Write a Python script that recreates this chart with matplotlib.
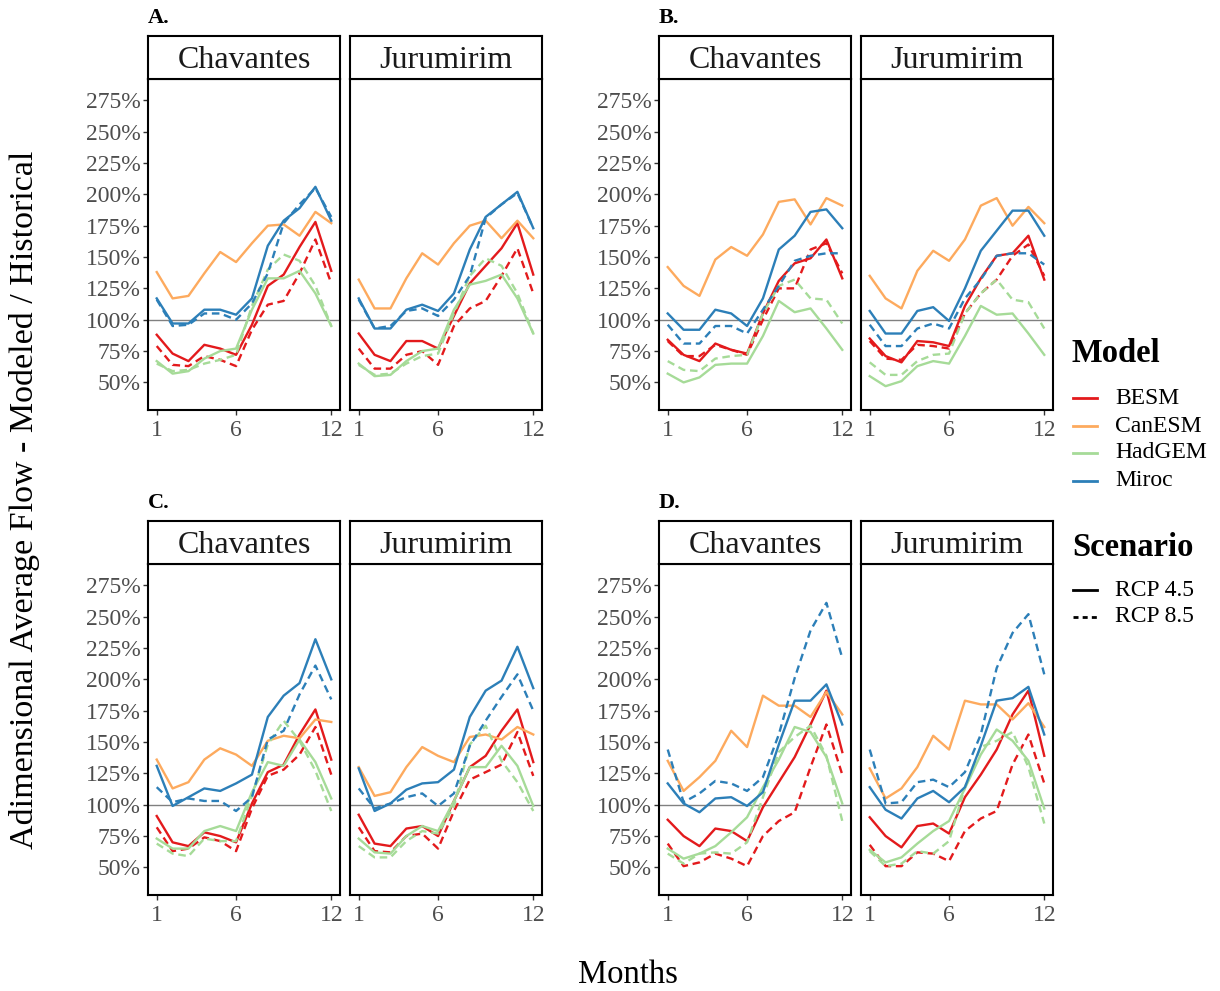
import matplotlib
matplotlib.use("Agg")
import matplotlib.pyplot as plt
from matplotlib.lines import Line2D

plt.rcParams['font.family'] = ['Liberation Serif', 'DejaVu Serif']

# ---------------- data ----------------
months = [1, 2, 3, 4, 5, 6, 7, 8, 9, 10, 11, 12]
stations = ["Chavantes", "Jurumirim"]
models = ["BESM", "CanESM", "HadGEM", "Miroc"]
scenarios = ["RCP 4.5", "RCP 8.5"]
panel_tags = ["A.", "B.", "C.", "D."]
y_ticks = [50, 75, 100, 125, 150, 175, 200, 225, 250, 275]
y_ticklabels = ["50%", "75%", "100%", "125%", "150%", "175%", "200%", "225%", "250%", "275%"]
x_ticks = [1, 6, 12]

# Panel A
A_CHA_BESM_45 = [88, 73, 67, 80, 77, 72, 96, 127, 136, 158, 178, 139]
A_CHA_BESM_85 = [79, 64, 63, 71, 68, 63, 92, 112, 115, 137, 164, 129]
A_CHA_CAN_45 = [138, 117, 119, 137, 154, 146, 161, 175, 176, 167, 186, 177]
A_CHA_HAD_45 = [67, 57, 59, 69, 75, 77, 108, 133, 133, 139, 121, 95]
A_CHA_HAD_85 = [65, 59, 60, 65, 68, 72, 111, 140, 152, 147, 127, 95]
A_CHA_MIR_45 = [117, 97, 97, 108, 108, 104, 117, 159, 179, 189, 206, 179]
A_CHA_MIR_85 = [116, 95, 96, 105, 105, 100, 113, 137, 177, 192, 205, 182]

A_JUR_BESM_45 = [89, 72, 67, 83, 83, 77, 103, 129, 143, 157, 177, 136]
A_JUR_BESM_85 = [77, 61, 61, 72, 75, 64, 95, 109, 115, 135, 157, 121]
A_JUR_CAN_45 = [132, 109, 109, 133, 153, 144, 161, 175, 179, 165, 179, 165]
A_JUR_HAD_45 = [65, 55, 56, 67, 75, 77, 108, 128, 131, 136, 117, 89]
A_JUR_HAD_85 = [64, 56, 57, 65, 71, 73, 105, 135, 149, 143, 121, 89]
A_JUR_MIR_45 = [117, 93, 93, 108, 112, 107, 121, 156, 182, 192, 202, 173]
A_JUR_MIR_85 = [116, 93, 95, 107, 109, 103, 116, 135, 181, 192, 201, 173]

# Panel B
B_CHA_BESM_45 = [84, 72, 67, 81, 76, 73, 105, 131, 145, 149, 164, 133]
B_CHA_BESM_85 = [83, 71, 71, 80, 76, 72, 100, 125, 125, 156, 161, 137]
B_CHA_CAN_45 = [142, 127, 119, 148, 158, 151, 168, 194, 196, 176, 197, 191]
B_CHA_HAD_45 = [57, 50, 54, 64, 65, 65, 87, 115, 106, 109, 93, 76]
B_CHA_HAD_85 = [67, 60, 59, 69, 71, 72, 105, 127, 132, 117, 116, 97]
B_CHA_MIR_45 = [105, 92, 92, 108, 105, 95, 117, 156, 167, 186, 188, 173]
B_CHA_MIR_85 = [96, 81, 81, 95, 95, 89, 108, 127, 147, 151, 153, 153]

B_JUR_BESM_45 = [85, 71, 66, 83, 82, 79, 111, 133, 151, 153, 167, 132]
B_JUR_BESM_85 = [83, 69, 68, 80, 79, 77, 105, 121, 132, 151, 160, 135]
B_JUR_CAN_45 = [135, 117, 109, 139, 155, 147, 164, 191, 197, 175, 190, 177]
B_JUR_HAD_45 = [55, 47, 51, 63, 67, 65, 87, 111, 104, 105, 89, 72]
B_JUR_HAD_85 = [66, 56, 56, 67, 72, 73, 105, 121, 132, 116, 114, 93]
B_JUR_MIR_45 = [107, 89, 89, 107, 110, 99, 125, 155, 171, 187, 187, 167]
B_JUR_MIR_85 = [96, 79, 79, 93, 97, 93, 117, 132, 151, 153, 153, 144]

# Panel C
C_CHA_BESM_45 = [91, 70, 67, 78, 75, 70, 101, 126, 132, 156, 176, 136]
C_CHA_BESM_85 = [82, 63, 65, 74, 71, 63, 97, 123, 128, 140, 162, 124]
C_CHA_CAN_45 = [136, 113, 118, 136, 145, 140, 131, 151, 155, 153, 168, 166]
C_CHA_HAD_45 = [73, 65, 65, 79, 83, 79, 110, 134, 131, 152, 134, 105]
C_CHA_HAD_85 = [69, 61, 59, 73, 71, 71, 107, 148, 167, 151, 127, 95]
C_CHA_MIR_45 = [131, 99, 106, 113, 111, 117, 124, 170, 187, 197, 232, 200]
C_CHA_MIR_85 = [114, 102, 105, 103, 103, 95, 106, 152, 159, 188, 211, 184]

C_JUR_BESM_45 = [92, 69, 67, 81, 83, 75, 103, 130, 139, 159, 176, 134]
C_JUR_BESM_85 = [82, 63, 62, 75, 77, 65, 95, 120, 126, 132, 158, 123]
C_JUR_CAN_45 = [130, 107, 110, 130, 146, 139, 134, 154, 156, 152, 162, 156]
C_JUR_HAD_45 = [73, 62, 61, 75, 83, 79, 103, 130, 130, 147, 131, 99]
C_JUR_HAD_85 = [67, 58, 58, 71, 79, 77, 99, 148, 163, 135, 118, 95]
C_JUR_MIR_45 = [129, 95, 101, 112, 117, 118, 128, 170, 191, 199, 226, 193]
C_JUR_MIR_85 = [113, 97, 101, 106, 109, 99, 109, 147, 167, 186, 204, 175]

# Panel D
D_CHA_BESM_45 = [88, 75, 67, 81, 79, 71, 98, 118, 138, 164, 191, 142]
D_CHA_BESM_85 = [69, 51, 54, 61, 57, 51, 75, 87, 94, 130, 164, 124]
D_CHA_CAN_45 = [135, 111, 122, 135, 159, 146, 187, 179, 179, 170, 190, 172]
D_CHA_HAD_45 = [65, 57, 61, 67, 78, 90, 114, 136, 162, 158, 138, 101]
D_CHA_HAD_85 = [61, 53, 61, 62, 61, 70, 106, 142, 154, 163, 139, 87]
D_CHA_MIR_45 = [117, 101, 94, 105, 106, 99, 110, 148, 183, 183, 196, 164]
D_CHA_MIR_85 = [144, 102, 109, 119, 117, 111, 122, 156, 201, 239, 261, 217]

D_JUR_BESM_45 = [90, 75, 66, 83, 85, 77, 106, 124, 144, 172, 191, 139]
D_JUR_BESM_85 = [68, 51, 51, 62, 61, 55, 79, 89, 95, 132, 156, 117]
D_JUR_CAN_45 = [129, 105, 113, 130, 155, 144, 183, 180, 180, 168, 181, 162]
D_JUR_HAD_45 = [64, 54, 58, 69, 79, 87, 113, 140, 160, 151, 135, 97]
D_JUR_HAD_85 = [63, 51, 53, 63, 61, 71, 114, 146, 151, 158, 130, 85]
D_JUR_MIR_45 = [114, 96, 89, 105, 111, 102, 114, 147, 183, 185, 194, 156]
D_JUR_MIR_85 = [144, 101, 102, 118, 120, 114, 126, 156, 209, 237, 252, 204]

g = globals()
def series(tag, st, mod, scen):
    name = f"{tag}_{st}_{mod}_{scen}"
    return g.get(name)

model_keys = {"BESM": "BESM", "CanESM": "CAN", "HadGEM": "HAD", "Miroc": "MIR"}
scen_keys = {"RCP 4.5": "45", "RCP 8.5": "85"}
station_keys = {"Chavantes": "CHA", "Jurumirim": "JUR"}

colors = {"BESM": "#E31A1C", "CanESM": "#FDAA5E", "HadGEM": "#A6DB98", "Miroc": "#2C7FB8"}
styles = {"RCP 4.5": "-", "RCP 8.5": (0, (3.2, 2.0))}
leg_styles = {"RCP 4.5": "-", "RCP 8.5": (0, (1.8, 1.5))}

# ---------------- layout ----------------
W, H = 1220, 991
fig = plt.figure(figsize=(12.2, 9.91), dpi=100)

def fx(px):
    return px / W

def fy(py):
    return 1 - py / H

panel_left = {"A.": 148, "B.": 659, "C.": 148, "D.": 659}
panel_shift = {"A.": 0, "B.": 0, "C.": 485, "D.": 485}
sub_offset = [0, 202]
pw = 192
plot_top, plot_bot = 79, 410
strip_top = 36

tick_col = "#333333"
lab_col = "#4D4D4D"

for tag in panel_tags:
    x0 = panel_left[tag]
    dy = panel_shift[tag]
    fig.text(fx(x0), fy(18 + dy), tag, fontsize=16, weight="bold", ha="left", va="center")
    for si, st in enumerate(stations):
        left = x0 + sub_offset[si]
        ax = fig.add_axes([fx(left), fy(plot_bot + dy), pw / W, (plot_bot - plot_top) / H])
        ax.axhline(100, color="#808080", lw=1.0, zorder=1)
        for mod in models:
            for scen in scenarios:
                vals = series(tag[0], station_keys[st], model_keys[mod], scen_keys[scen])
                if vals is None:
                    continue
                ax.plot(months, vals, color=colors[mod], linestyle=styles[scen], lw=1.7, zorder=2)
        ax.set_xlim(0.45, 12.55)
        ax.set_ylim(28, 292)
        ax.set_xticks(x_ticks)
        ax.set_xticklabels([str(t) for t in x_ticks])
        ax.set_yticks(y_ticks)
        if si == 0:
            ax.set_yticklabels(y_ticklabels)
        else:
            ax.tick_params(axis="y", left=False, labelleft=False)
        ax.tick_params(axis="both", colors=tick_col, labelcolor=lab_col, labelsize=17,
                       length=3.5, width=1.0, pad=2)
        ax.tick_params(axis="x", pad=3.5)
        for sp in ax.spines.values():
            sp.set_color("black")
            sp.set_linewidth(1.5)
        # strip
        sax = fig.add_axes([fx(left), fy(plot_top + dy), pw / W, (plot_top - strip_top) / H])
        sax.set_xticks([])
        sax.set_yticks([])
        for sp in sax.spines.values():
            sp.set_color("black")
            sp.set_linewidth(1.5)
        sax.text(0.5, 0.42, st, fontsize=23, ha="center", va="center", color="#1A1A1A",
                 transform=sax.transAxes)

# axis titles
fig.text(fx(25), fy(500), "Adimensional Average Flow - Modeled / Historical", rotation=90,
         fontsize=24.5, ha="center", va="center")
fig.text(fx(628), fy(975), "Months", fontsize=23.5, ha="center", va="center")

# legend
fig.text(fx(1072), fy(353), "Model", fontsize=23.5, weight="bold", ha="left", va="center")
leg_y = [398, 426, 453, 481]
for mod, yy in zip(models, leg_y):
    fig.add_artist(Line2D([fx(1073), fx(1097)], [fy(yy), fy(yy)], transform=fig.transFigure,
                          color=colors[mod], lw=2))
    fig.text(fx(1115), fy(yy), mod, fontsize=17, ha="left", va="center")

fig.text(fx(1072), fy(548), "Scenario", fontsize=23.5, weight="bold", ha="left", va="center")
scen_y = [590, 617]
for scen, yy in zip(scenarios, scen_y):
    fig.add_artist(Line2D([fx(1073), fx(1097)], [fy(yy), fy(yy)], transform=fig.transFigure,
                          color="black", lw=2, linestyle=leg_styles[scen]))
    fig.text(fx(1115), fy(yy), scen, fontsize=17, ha="left", va="center")

fig.savefig("out.png", dpi=100, facecolor="white")
